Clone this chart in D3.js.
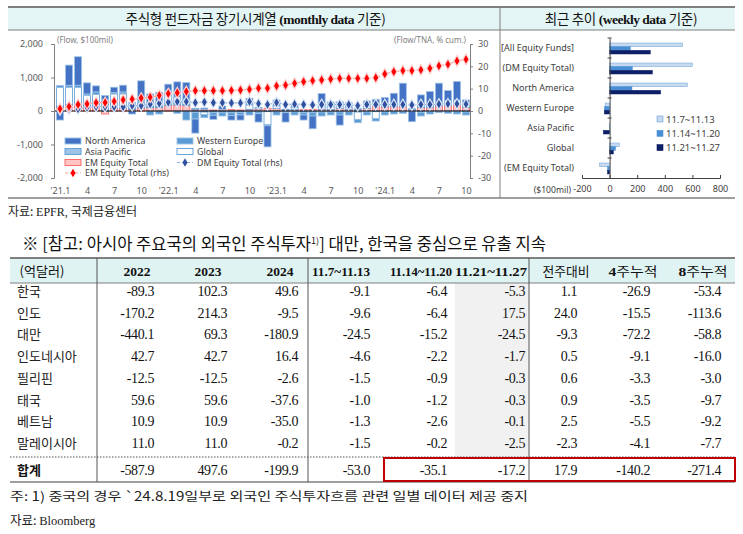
<!DOCTYPE html>
<html><head><meta charset="utf-8">
<script src="https://cdn.jsdelivr.net/npm/d3@7"></script>
<style>
body{margin:0;background:#fff;}
svg text{font-family:"Noto Sans","Noto Sans CJK KR",sans-serif;}
</style></head><body>
<svg id="c" width="743" height="534"></svg>
<script>
// ---------- monthly chart data ($100mil, %) ----------
const months = ["2021-01","2021-02","2021-03","2021-04","2021-05","2021-06","2021-07","2021-08","2021-09","2021-10","2021-11","2021-12",
"2022-01","2022-02","2022-03","2022-04","2022-05","2022-06","2022-07","2022-08","2022-09","2022-10","2022-11","2022-12",
"2023-01","2023-02","2023-03","2023-04","2023-05","2023-06","2023-07","2023-08","2023-09","2023-10","2023-11","2023-12",
"2024-01","2024-02","2024-03","2024-04","2024-05","2024-06","2024-07","2024-08","2024-09","2024-10"];
const tickMonths = ["2021-01","2021-04","2021-07","2021-10","2022-01","2022-04","2022-07","2022-10","2023-01","2023-04","2023-07","2023-10","2024-01","2024-04","2024-07","2024-10"];
const tickLabels = ["'21.1","4","7","10","'22.1","4","7","10","'23.1","4","7","10","'24.1","4","7","10"];
const naFlow = [-270,600,850,330,180,120,160,200,-90,620,250,280,180,450,500,-420,40,-120,100,-130,-150,200,-250,-630,180,-280,120,-150,-380,380,140,-300,150,50,150,200,200,300,600,-320,300,380,560,300,550,150];
const weFlow = [60,60,70,50,80,50,40,60,50,40,-120,-90,100,-70,-270,-200,-90,-80,-100,-90,-80,-100,-50,-40,-100,-30,-90,-70,-100,-120,-90,-90,-100,-100,-90,-80,-90,-70,-50,20,-110,-70,-30,-50,-70,-90];
const apFlow = [40,40,50,40,40,30,30,30,20,30,30,30,50,60,40,-40,-30,-20,-30,-20,-20,-20,-30,-20,-20,-20,-30,-20,-30,-30,-30,-30,-20,-30,-30,-20,-30,-20,-20,10,-40,-20,-20,-20,-20,-30];
const glFlow = [560,520,500,300,330,260,400,400,140,120,130,150,300,180,150,30,-80,-30,-20,-30,-20,130,40,-380,80,20,60,-30,-20,90,90,200,50,-220,80,-200,80,100,100,20,80,100,120,150,130,80];
const emFlow = [100,150,150,120,120,-90,80,80,50,90,100,100,170,180,160,50,50,30,50,40,30,50,60,80,70,30,40,40,50,50,40,70,50,30,70,150,120,130,130,30,100,100,150,160,200,100];
const emCum = [1.0,2.0,2.9,3.2,3.7,3.8,4.3,5.0,5.3,5.8,6.2,7.0,7.8,8.2,8.7,9.1,9.1,9.1,9.1,9.2,9.4,9.7,10.2,10.2,11.2,11.6,12.4,13.1,13.6,13.9,14.3,14.6,14.6,14.6,14.6,14.9,16.6,17.6,18.1,18.1,18.4,19.1,20.2,20.9,22.4,23.1];
const dmCum = [0.5,0.9,0.9,1.6,1.9,1.9,1.9,1.9,2.4,2.4,3.1,3.4,3.9,4.2,4.2,3.7,4.0,3.7,3.7,3.6,3.6,4.2,3.3,2.9,3.8,2.9,3.1,2.9,2.7,2.9,2.9,2.9,2.9,2.4,2.9,2.9,2.9,2.9,2.9,2.7,2.9,2.9,3.1,3.2,3.2,3.1];
const leftTicks = [-2000,-1000,0,1000,2000];
const rightTicks = [-30,-20,-10,0,10,20,30];

// ---------- weekly chart data ----------
const weekCats = ["[All Equity Funds]","(DM Equity Total)","North America","Western Europe","Asia Pacific","Global","(EM Equity Total)"];
const weekNames = ["11.7~11.13","11.14~11.20","11.21~11.27"];
const wk1 = [530,600,563,-32,-3,70,-72];
const wk2 = [150,165,162,-38,-2,43,-15];
const wk3 = [295,310,370,-38,-45,27,-15];
const weekTicks = [-200,0,200,400,600,800];

// ---------- table data ----------
const tableHeader = ["(억달러)","2022","2023","2024","11.7~11.13","11.14~11.20","11.21~11.27","전주대비","4주누적","8주누적"];
const countries = ["한국","인도","대만","인도네시아","필리핀","태국","베트남","말레이시아"];
const col2022 = ["-89.3","-170.2","-440.1","42.7","-12.5","59.6","10.9","11.0"];
const col2023 = ["102.3","214.3","69.3","42.7","-12.5","59.6","10.9","11.0"];
const col2024 = ["49.6","-9.5","-180.9","16.4","-2.6","-37.6","-35.0","-0.2"];
const colW1 = ["-9.1","-9.6","-24.5","-4.6","-1.5","-1.0","-1.3","-1.5"];
const colW2 = ["-6.4","-6.4","-15.2","-2.2","-0.9","-1.2","-2.6","-0.2"];
const colW3 = ["-5.3","17.5","-24.5","-1.7","-0.3","-0.3","-0.1","-2.5"];
const colWoW = ["1.1","24.0","-9.3","0.5","0.6","0.9","2.5","-2.3"];
const colCum4 = ["-26.9","-15.5","-72.2","-9.1","-3.3","-3.5","-5.5","-4.1"];
const colCum8 = ["-53.4","-113.6","-58.8","-16.0","-3.0","-9.7","-9.2","-7.7"];
const totalLabel = "합계";
const totalRow = ["-587.9","497.6","-199.9","-53.0","-35.1","-17.2","17.9","-140.2","-271.4"];

const svg = d3.select("#c");
const KR = "'Noto Sans CJK KR',sans-serif";
const SERIF = "'Liberation Serif','Times New Roman',serif";

// ---------- frame ----------
svg.append("rect").attr("x",8).attr("y",7).attr("width",727).attr("height",23).attr("fill","#e4f5f5");
svg.append("line").attr("x1",8).attr("x2",735).attr("y1",7).attr("y2",7).attr("stroke","#7f7f7f").attr("stroke-width",2);
svg.append("line").attr("x1",8).attr("x2",735).attr("y1",30).attr("y2",30).attr("stroke","#7f7f7f").attr("stroke-width",1);
svg.append("line").attr("x1",8).attr("x2",735).attr("y1",198).attr("y2",198).attr("stroke","#7f7f7f").attr("stroke-width",1.5);
svg.append("line").attr("x1",500).attr("x2",500).attr("y1",7).attr("y2",198).attr("stroke","#7f7f7f").attr("stroke-width",1);

function titleText(cx, parts){
  const t = svg.append("text").attr("x",cx).attr("y",24).attr("text-anchor","middle").attr("font-size",13.5).attr("fill","#111");
  t.append("tspan").style("font-family",KR).attr("letter-spacing",-0.3).text(parts[0]);
  t.append("tspan").style("font-family",SERIF).attr("font-weight","bold").attr("letter-spacing",-0.5).text(parts[1]);
  t.append("tspan").style("font-family",KR).attr("letter-spacing",-0.3).text(parts[2]);
}
titleText(255.5, ["주식형 펀드자금 장기시계열 ","(monthly data ","기준)"]);
titleText(621, ["최근 추이 ","(weekly data ","기준)"]);

// ---------- monthly chart ----------
const x = d3.scalePoint().domain(months).range([60,466]);
const yL = d3.scaleLinear().domain([-2000,2000]).range([178,44]);
const yR = d3.scaleLinear().domain([-30,30]).range([178,44]);
const rows = months.map((m,i)=>({m, em:emFlow[i], ap:apFlow[i], gl:glFlow[i], we:weFlow[i], na:naFlow[i]}));
const keys = ["em","ap","gl","we","na"];
const styles = {
  na:{fill:"#4472c4",stroke:"#9dc3e6"},
  we:{fill:"#5b9bd5",stroke:"#9dc3e6"},
  ap:{fill:"#9dc3e6",stroke:"#5b9bd5"},
  gl:{fill:"#ffffff",stroke:"#5b9bd5"},
  em:{fill:"#ffc4c4",stroke:"#ff6060"}
};
const stacked = d3.stack().keys(keys).offset(d3.stackOffsetDiverging)(rows);
const bw = 7;
const gBars = svg.append("g");
stacked.forEach(s=>{
  gBars.selectAll(null).data(s).join("rect")
    .attr("x",d=>x(d.data.m)-bw/2).attr("width",bw)
    .attr("y",d=>yL(Math.max(d[0],d[1]))).attr("height",d=>Math.abs(yL(d[0])-yL(d[1])))
    .attr("fill",styles[s.key].fill).attr("stroke",styles[s.key].stroke).attr("stroke-width",0.8);
});
svg.append("line").attr("x1",54).attr("x2",470).attr("y1",yL(0)).attr("y2",yL(0)).attr("stroke","#000").attr("stroke-width",1.2);

const fmt = d=>d3.format(",")(d).replace("−","-");
const axL = svg.append("g").attr("transform","translate(54,0)").call(d3.axisLeft(yL).tickValues(leftTicks).tickFormat(fmt).tickSize(3).tickPadding(8));
const axR = svg.append("g").attr("transform","translate(470,0)").call(d3.axisRight(yR).tickValues(rightTicks).tickFormat(d=>String(d)).tickSize(3).tickPadding(5));
[axL,axR].forEach(a=>{
  a.select(".domain").attr("stroke","#7f7f7f");
  a.selectAll(".tick line").attr("stroke","#7f7f7f");
  a.selectAll("text").attr("font-size",9).attr("fill","#595959").style("font-family","'Noto Sans',sans-serif");
});
const axB = svg.append("g").attr("transform","translate(0,186)").call(d3.axisBottom(x).tickValues(tickMonths).tickFormat((d,i)=>tickLabels[i]).tickSize(0).tickPadding(2));
axB.select(".domain").remove();
axB.selectAll("text").attr("font-size",9).attr("fill","#595959").style("font-family","'Noto Sans',sans-serif");

svg.append("text").attr("x",57).attr("y",43).attr("font-size",8).attr("fill","#7f7f7f").text("(Flow, $100mil)");
svg.append("text").attr("x",466).attr("y",43).attr("text-anchor","end").attr("font-size",8).attr("fill","#7f7f7f").text("(Flow/TNA, % cum.)");

const lineCum = d3.line().x((d,i)=>x(months[i])).y(d=>yR(d));
svg.append("path").datum(emCum).attr("d",lineCum).attr("fill","none").attr("stroke","#f7a28a").attr("stroke-width",1.2).attr("stroke-dasharray","3,2");
svg.append("path").datum(dmCum).attr("d",lineCum).attr("fill","none").attr("stroke","#8eb4e3").attr("stroke-width",1.2).attr("stroke-dasharray","3,2");
const diamond = d3.symbol(d3.symbolDiamond).size(34);
svg.append("g").selectAll("path").data(dmCum).join("path")
  .attr("d",diamond).attr("transform",(d,i)=>`translate(${x(months[i])},${yR(d)})`)
  .attr("fill","#2f4f9f").attr("stroke","#dbe6f5").attr("stroke-width",1.2);
svg.append("g").selectAll("path").data(emCum).join("path")
  .attr("d",diamond).attr("transform",(d,i)=>`translate(${x(months[i])},${yR(d)})`)
  .attr("fill","#ff0000").attr("stroke","#ffd0d0").attr("stroke-width",1.2);

// legend (monthly)
const legItems = [
  {label:"North America",type:"bar",k:"na",col:0,row:0},
  {label:"Western Europe",type:"bar",k:"we",col:1,row:0},
  {label:"Asia Pacific",type:"bar",k:"ap",col:0,row:1},
  {label:"Global",type:"bar",k:"gl",col:1,row:1},
  {label:"EM Equity Total",type:"bar",k:"em",col:0,row:2},
  {label:"DM Equity Total (rhs)",type:"line",c:"#8eb4e3",m:"#2f4f9f",col:1,row:2},
  {label:"EM Equity Total (rhs)",type:"line",c:"#f7a28a",m:"#ff0000",col:0,row:3}
];
const legX = [65,177], legY = [141,151.5,162.5,173];
const gl = svg.append("g");
legItems.forEach(it=>{
  const lx = legX[it.col], ly = legY[it.row];
  if(it.type==="bar"){
    gl.append("rect").attr("x",lx).attr("y",ly-3).attr("width",16).attr("height",6)
      .attr("fill",styles[it.k].fill).attr("stroke",styles[it.k].stroke).attr("stroke-width",0.9);
  } else {
    gl.append("line").attr("x1",lx).attr("x2",lx+16).attr("y1",ly).attr("y2",ly).attr("stroke",it.c).attr("stroke-width",1.2).attr("stroke-dasharray","3,2");
    gl.append("path").attr("d",d3.symbol(d3.symbolDiamond).size(22)).attr("transform",`translate(${lx+8},${ly})`).attr("fill",it.m);
  }
  gl.append("text").attr("x",lx+20).attr("y",ly+3).attr("font-size",8.8).attr("fill","#404040").text(it.label);
});

// ---------- weekly chart ----------
const xW = d3.scaleLinear().domain([-200,800]).range([582,720]);
const yW = d3.scaleBand().domain(weekCats).range([38,178]);
const inner = d3.scaleBand().domain(weekNames).range([5,16]);
const wkSeries = [wk1,wk2,wk3];
const wkFill = ["#c5daf1","#4a8fd6","#0d1f66"];
const wkStroke = ["#6f9fd6","#4a8fd6","#0d1f66"];
wkSeries.forEach((arr,si)=>{
  svg.append("g").selectAll("rect").data(arr).join("rect")
    .attr("x",d=>xW(Math.min(0,d))).attr("width",d=>Math.abs(xW(d)-xW(0)))
    .attr("y",(d,i)=>yW(weekCats[i])+inner(weekNames[si])).attr("height",inner.bandwidth())
    .attr("fill",wkFill[si]).attr("stroke",wkStroke[si]).attr("stroke-width",0.5);
});
const axW = svg.append("g").attr("transform","translate(0,178)").call(d3.axisBottom(xW).tickValues(weekTicks).tickFormat(d=>String(d)).tickSize(-3).tickPadding(8));
axW.select(".domain").attr("stroke","#404040");
axW.selectAll(".tick line").attr("stroke","#404040");
axW.selectAll("text").attr("font-size",9).attr("fill","#404040").style("font-family","'Noto Sans',sans-serif");
const axWy = svg.append("g").attr("transform",`translate(${xW(0)},0)`).call(d3.axisLeft(yW).tickSize(0).tickFormat(""));
axWy.select(".domain").attr("stroke","#404040");
svg.append("g").selectAll("line").data(weekCats).join("line")
  .attr("x1",xW(0)-2).attr("x2",xW(0)+2).attr("y1",d=>yW(d)).attr("y2",d=>yW(d)).attr("stroke","#404040");
svg.append("g").selectAll("text").data(weekCats).join("text")
  .attr("x",574).attr("y",d=>yW(d)+yW.bandwidth()/2+3).attr("text-anchor","end")
  .attr("font-size",9).attr("fill","#404040").text(d=>d);
svg.append("text").attr("x",571).attr("y",193).attr("text-anchor","end").attr("font-size",8.6).attr("fill","#404040").text("($100mil)");
weekNames.forEach((n,i)=>{
  const ly = 119 + i*14.3;
  svg.append("rect").attr("x",657).attr("y",ly-3).attr("width",6).attr("height",6).attr("fill",wkFill[i]).attr("stroke",wkStroke[i]).attr("stroke-width",0.6);
  svg.append("text").attr("x",666).attr("y",ly+3.5).attr("font-size",9.5).attr("fill","#404040").text(n);
});

// ---------- source + table title ----------
const src1 = svg.append("text").attr("x",8).attr("y",216).attr("font-size",12).attr("fill","#222");
src1.append("tspan").style("font-family",KR).text("자료: ");
src1.append("tspan").style("font-family",SERIF).text("EPFR, ");
src1.append("tspan").style("font-family",KR).text("국제금융센터");

const tt = svg.append("text").attr("x",22).attr("y",250).attr("font-size",16.5).attr("fill","#111").style("font-family",KR)
  .attr("textLength",524).attr("lengthAdjust","spacingAndGlyphs");
tt.append("tspan").text("※ [참고: 아시아 주요국의 외국인 주식투자");
tt.append("tspan").attr("font-size",9).attr("dy",-6).text("1)");
tt.append("tspan").attr("dy",6).text("] 대만, 한국을 중심으로 유출 지속");

// ---------- table ----------
const tTop = 258, hBot = 283, dotY = 457, tBot = 482;
const rowY0 = 291, rowStep = 21.7, totalY = 469.5;
svg.append("rect").attr("x",10).attr("y",tTop).attr("width",725).attr("height",hBot-tTop).attr("fill","#e0f3f3");
svg.append("rect").attr("x",455).attr("y",hBot).attr("width",74).attr("height",dotY-hBot).attr("fill","#f1f1f1");
svg.append("line").attr("x1",10).attr("x2",735).attr("y1",tTop).attr("y2",tTop).attr("stroke","#7f7f7f").attr("stroke-width",2);
svg.append("line").attr("x1",10).attr("x2",735).attr("y1",hBot).attr("y2",hBot).attr("stroke","#7f7f7f").attr("stroke-width",1);
svg.append("line").attr("x1",10).attr("x2",735).attr("y1",dotY).attr("y2",dotY).attr("stroke","#555").attr("stroke-width",1).attr("stroke-dasharray","1.5,1.5");
svg.append("line").attr("x1",10).attr("x2",735).attr("y1",tBot).attr("y2",tBot).attr("stroke","#7f7f7f").attr("stroke-width",1.5);
[97,308,529].forEach(vx=>svg.append("line").attr("x1",vx).attr("x2",vx).attr("y1",tTop).attr("y2",tBot).attr("stroke","#555").attr("stroke-width",1));

// header
const hdrX = [42,137,208,280,341,421,491,566,633,703];
const hdrW = [45,27,27,27,58,62,72,47,49,49];
tableHeader.forEach((h,i)=>{
  const t = svg.append("text").attr("x",hdrX[i]).attr("y",276).attr("text-anchor","middle")
    .attr("font-size",13.5).attr("fill","#111")
    .attr("textLength",hdrW[i]).attr("lengthAdjust","spacingAndGlyphs");
  const m = h.match(/^([0-9.~]*)(.*)$/);
  if(m[1]) t.append("tspan").style("font-family",SERIF).attr("font-weight","bold").text(m[1]);
  if(m[2]) t.append("tspan").style("font-family",KR).attr("font-size",13).text(m[2]);
});
// body
const cols = [col2022,col2023,col2024,colW1,colW2,colW3,colWoW,colCum4,colCum8];
const colRight = [154,227,298,370,447,525,577,650,721];
countries.forEach((c,r)=>{
  const cy = rowY0 + r*rowStep;
  svg.append("text").attr("x",17).attr("y",cy+5).attr("font-size",13).style("font-family",KR).attr("fill","#222").text(c);
  cols.forEach((col,ci)=>{
    svg.append("text").attr("x",colRight[ci]).attr("y",cy+5).attr("text-anchor","end")
      .attr("font-size",14).attr("letter-spacing",-0.4).style("font-family",SERIF).attr("fill","#111").text(col[r]);
  });
});
svg.append("text").attr("x",17).attr("y",totalY+5).attr("font-size",13).attr("font-weight","bold").style("font-family",KR).attr("fill","#111").text(totalLabel);
totalRow.forEach((v,ci)=>{
  svg.append("text").attr("x",colRight[ci]).attr("y",totalY+5).attr("text-anchor","end")
    .attr("font-size",14).attr("letter-spacing",-0.4).style("font-family",SERIF).attr("fill","#111").text(v);
});
svg.append("rect").attr("x",384).attr("y",458).attr("width",351).attr("height",23).attr("fill","none").attr("stroke","#c00000").attr("stroke-width",2);

// footnotes
const fn = svg.append("text").attr("x",10).attr("y",501).attr("font-size",12.5).attr("fill","#222").style("font-family",KR)
  .attr("textLength",518).attr("lengthAdjust","spacingAndGlyphs");
fn.text("주: 1) 중국의 경우 `24.8.19일부로 외국인 주식투자흐름 관련 일별 데이터 제공 중지");
const src2 = svg.append("text").attr("x",10).attr("y",525).attr("font-size",12.5).attr("fill","#222");
src2.append("tspan").style("font-family",KR).text("자료: ");
src2.append("tspan").style("font-family",SERIF).text("Bloomberg");
</script>
</body></html>
